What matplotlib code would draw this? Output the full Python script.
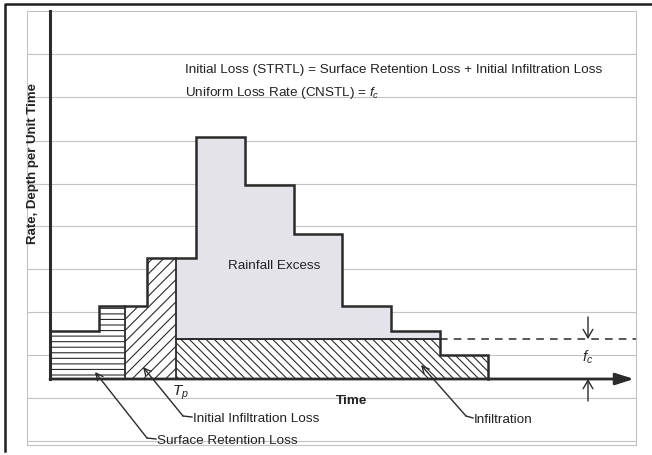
import numpy as np
import matplotlib
matplotlib.use("Agg")
import matplotlib.pyplot as plt

plt.rcParams['font.family'] = ['Liberation Sans', 'DejaVu Sans']
plt.rcParams['mathtext.fontset'] = 'custom'
plt.rcParams['mathtext.it'] = 'Liberation Sans:italic'
plt.rcParams['mathtext.rm'] = 'Liberation Sans'
plt.rcParams['hatch.linewidth'] = 0.8

# ---- data (rate per unit time, one value per time interval) ----
rain = [2, 3, 5, 10, 8, 6, 3, 2, 1]
retention_end = 1.55     # time at which surface retention is satisfied
tp = 2.58                # ponding time T_p
fc = 1.65                # uniform loss rate f_c

title_lines = ["Initial Loss (STRTL) = Surface Retention Loss + Initial Infiltration Loss",
               "Uniform Loss Rate (CNSTL) = $f_c$"]
ylabel = "Rate, Depth per Unit Time"
xlabel = "Time"

# ---- layout (pixel mapping of the drawing) ----
W, H = 652, 456
X0, Y0 = 50, 380          # origin in pixels
PX_T, PX_R = 48.7, 24.2   # pixels per time interval / per rate unit

def tx(px):
    return (px - X0) / PX_T

def ry(py):
    return (Y0 - py) / PX_R

fig = plt.figure(figsize=(W / 100, H / 100), dpi=100)
ax = fig.add_axes([0, 0, 1, 1])
ax.set_xlim(tx(0), tx(W))
ax.set_ylim(ry(H), ry(0))
ax.axis('off')

dark = '#2b2b2b'
n = len(rain)

def step_xy(t0, t1):
    xs, ys = [], []
    for i, r in enumerate(rain):
        a, b = max(i, t0), min(i + 1, t1)
        if b > a:
            xs += [a, b]
            ys += [r, r]
    return np.array(xs, float), np.array(ys, float)

def rain_at(t):
    return rain[min(int(np.floor(t)), n - 1)]

# background ruled lines of the page
grid_r = [ry(p) for p in (12, 55, 98, 142, 185, 227, 270, 313, 356, 399, 442)]
for g in grid_r:
    ax.plot([tx(27), tx(636)], [g, g], color='#c2c2c2', lw=0.8, zorder=0)
for xv in (tx(27), tx(636)):
    ax.plot([xv, xv], [ry(446), ry(12)], color='#c2c2c2', lw=0.8, zorder=0)
ax.plot([tx(27), tx(636)], [ry(446), ry(446)], color='#c2c2c2', lw=0.8, zorder=0)

# page frame
ax.plot([5 / W, 5 / W, 1], [1 - 452 / H, 1 - 5 / H, 1 - 5 / H], transform=ax.transAxes,
        color='#1e1e1e', lw=1.8, zorder=1)

# surface retention loss
xs, ys = step_xy(0, retention_end)
ax.fill_between(xs, 0, ys, facecolor='white', edgecolor=dark, hatch='---', lw=0, zorder=2)
# initial infiltration loss
xs, ys = step_xy(retention_end, tp)
ax.fill_between(xs, 0, ys, facecolor='white', edgecolor=dark, hatch='///', lw=0, zorder=2)
# uniform infiltration and rainfall excess
xs, ys = step_xy(tp, n)
ax.fill_between(xs, 0, np.minimum(ys, fc), facecolor='white', edgecolor=dark,
                hatch='\\\\\\\\', lw=0, zorder=2)
ax.fill_between(xs, np.minimum(ys, fc), ys, facecolor='#e5e3ea', edgecolor='none', lw=0, zorder=2)

# hyetograph outline
xa, ya = step_xy(0, n)
ax.plot(np.r_[xa, n], np.r_[ya, 0], color=dark, lw=1.8, zorder=4, solid_joinstyle='miter')
ax.plot([retention_end, retention_end], [0, rain_at(retention_end)], color=dark, lw=1.3, zorder=4)
ax.plot([tp, tp], [0, rain_at(tp)], color=dark, lw=1.3, zorder=4)
last_above = max(i for i, r in enumerate(rain) if r > fc) + 1
ax.plot([tp, last_above], [fc, fc], color=dark, lw=1.4, zorder=4)
ax.plot([last_above, tx(636)], [fc, fc], color=dark, lw=1.1, ls=(0, (5, 4)), zorder=4)

# axes
ax.plot([0, 0], [0, ry(12)], color=dark, lw=2.2, zorder=5)
ax.annotate('', xy=(tx(634), 0), xytext=(0, 0),
            arrowprops=dict(arrowstyle='-|>,head_length=1.1,head_width=0.35', color=dark,
                            lw=2.0, shrinkA=0, shrinkB=0), zorder=5)

# f_c dimension arrows
xa_f = tx(588)
ax.annotate('', xy=(xa_f, fc), xytext=(xa_f, ry(318)),
            arrowprops=dict(arrowstyle='->,head_length=0.6,head_width=0.35', color=dark, lw=1.0,
                            shrinkA=0, shrinkB=0))
ax.annotate('', xy=(xa_f, 0), xytext=(xa_f, ry(402)),
            arrowprops=dict(arrowstyle='->,head_length=0.6,head_width=0.35', color=dark, lw=1.0,
                            shrinkA=0, shrinkB=0))
ax.text(xa_f, ry(357), '$f_c$', fontsize=11, ha='center', va='center', color=dark)

# texts
tc = '#222222'
fs = 9.7
ax.text(tx(185), ry(70), title_lines[0], fontsize=fs, ha='left', va='center', color=tc)
ax.text(tx(185), ry(93), title_lines[1], fontsize=fs, ha='left', va='center', color=tc)
ax.text(tx(274), ry(266), 'Rainfall Excess', fontsize=fs, ha='center', va='center', color=tc)
ax.text(tx(352), ry(401), xlabel, fontsize=fs, ha='center', va='center', color=tc, fontweight='bold')
ax.text(tx(33), ry(164), ylabel, fontsize=9.5, ha='center', va='center', color=tc,
        fontweight='bold', rotation=90)
ax.text(tx(180), ry(393), '$T_p$', fontsize=11, ha='center', va='center', color=tc)

# leader labels
leaders = [
    ('Surface Retention Loss', (157, 441), (147, 439), (95, 373)),
    ('Initial Infiltration Loss', (193, 419), (183, 417), (143, 368)),
    ('Infiltration', (474, 420), (466, 417), (421, 366)),
]
for label, tpos, bend, tip in leaders:
    ax.text(tx(tpos[0]), ry(tpos[1]), label, fontsize=fs, ha='left', va='center', color=tc)
    ax.plot([tx(tpos[0] - 1), tx(bend[0])], [ry(tpos[1] - 1), ry(bend[1])], color=dark, lw=1.0, zorder=6)
    ax.annotate('', xy=(tx(tip[0]), ry(tip[1])), xytext=(tx(bend[0]), ry(bend[1])),
                arrowprops=dict(arrowstyle='->,head_length=0.5,head_width=0.25', color=dark, lw=1.0,
                                shrinkA=0, shrinkB=0), zorder=6)

fig.savefig('out.png', dpi=100, facecolor='white')
